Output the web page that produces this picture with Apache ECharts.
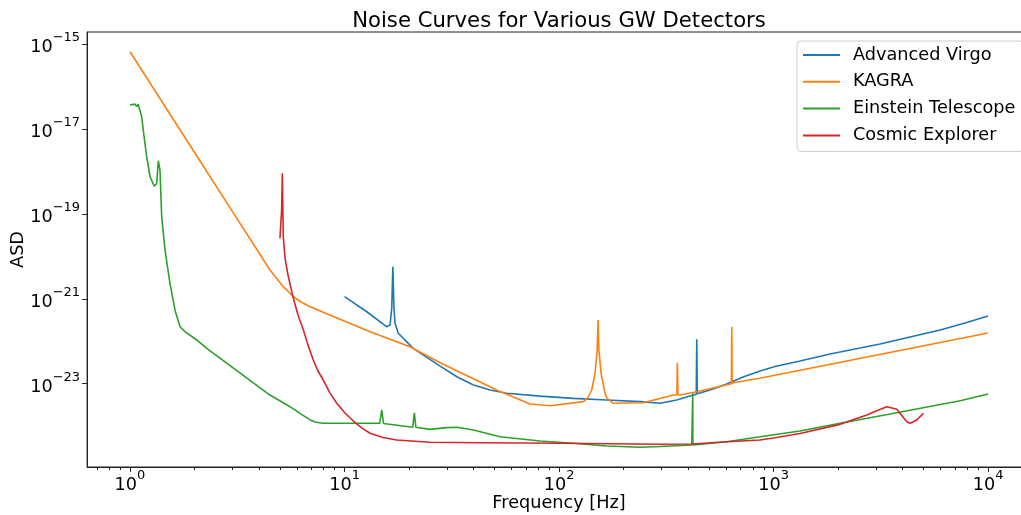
<!DOCTYPE html>
<html>
<head>
<meta charset="utf-8">
<script src="https://cdn.jsdelivr.net/npm/echarts@6/dist/echarts.min.js"></script>
<style>html,body{margin:0;padding:0;background:#fff;}#c{width:1021px;height:515px;}</style>
</head>
<body>
<div id="c"></div>
<script>
// ---- data ----
const seriesNames = ['Advanced Virgo', 'KAGRA', 'Einstein Telescope', 'Cosmic Explorer'];

const freqVirgo = [10, 12.7, 15.7, 16.3, 16.6, 16.8, 17.0, 17.2, 17.8, 20.9, 27.9, 33.4, 39.9, 47.7, 57, 81.5, 116.6, 167, 238.6, 295.8, 353.8, 422.7, 436, 438.5, 441, 505.8, 605, 720.8, 865, 1016, 1329, 1834, 2532, 3137, 4328, 5973, 7812, 10000];
const asdVirgo  = [1.12e-21, 4.95e-22, 2.2e-22, 2.41e-22, 6e-22, 5.7e-21, 6e-22, 2.64e-22, 1.54e-22, 6.8e-23, 2.6e-23, 1.46e-23, 9.3e-24, 7.1e-24, 5.93e-24, 5.1e-24, 4.5e-24, 4.13e-24, 3.77e-24, 3.45e-24, 4.13e-24, 5.4e-24, 5.6e-24, 1.11e-22, 5.8e-24, 7.1e-24, 9.8e-24, 1.44e-23, 1.99e-23, 2.54e-23, 3.42e-23, 5.0e-23, 6.9e-23, 8.6e-23, 1.26e-22, 1.84e-22, 2.69e-22, 3.93e-22];

const freqKagra = [1, 2, 3, 4, 4.2, 4.49, 4.82, 5.18, 5.48, 5.77, 6.30, 6.91, 13.15, 20.2, 27.9, 51.2, 73.2, 90.8, 129.8, 136, 142, 144.5, 147.2, 150.5, 152, 153.5, 157, 160, 163, 167, 179, 247, 341, 354, 356, 358, 366.5, 438.5, 636, 638.5, 641, 862, 10000];
const asdKagra  = [6.59e-16, 2.8e-18, 1.15e-19, 1.2e-20, 8.1e-21, 4.75e-21, 3.03e-21, 1.92e-21, 1.47e-21, 1.12e-21, 8.3e-22, 6.5e-22, 1.68e-22, 7.4e-23, 3.12e-23, 7.1e-24, 3.32e-24, 3.03e-24, 3.77e-24, 4.6e-24, 7.1e-24, 1.1e-23, 1.78e-23, 6e-23, 3.16e-22, 6e-23, 1.78e-23, 1.1e-23, 6.5e-24, 4.6e-24, 3.45e-24, 3.56e-24, 5.4e-24, 5.5e-24, 3.12e-23, 5.5e-24, 5.4e-24, 6.47e-24, 1.0e-23, 2.2e-22, 1.04e-23, 1.34e-23, 1.56e-22];

const freqET = [1, 1.055, 1.075, 1.09, 1.134, 1.153, 1.196, 1.24, 1.298, 1.332, 1.355, 1.38, 1.405, 1.456, 1.536, 1.621, 1.711, 1.804, 2.046, 2.279, 4.49, 5.57, 6.2, 6.91, 7.36, 7.96, 14.6, 14.91, 15.2, 20.8, 21.16, 21.5, 25.0, 29.96, 33.4, 39.9, 53.1, 81.5, 116.6, 167, 238.6, 295.8, 415.5, 419.5, 420, 420.5, 605, 865, 1329, 2042, 3493, 7406, 10000];
const asdET  = [3.66e-17, 3.86e-17, 3.37e-17, 3.86e-17, 1.94e-17, 9.4e-18, 2.22e-18, 7.5e-19, 4.5e-19, 5.2e-19, 1.79e-18, 1.08e-18, 8.6e-20, 1.41e-20, 2.31e-21, 5.4e-22, 2.2e-22, 1.68e-22, 1.07e-22, 6.8e-23, 5.4e-24, 2.87e-24, 1.99e-24, 1.4e-24, 1.23e-24, 1.17e-24, 1.17e-24, 2.4e-24, 1.15e-24, 9.4e-25, 2.07e-24, 9.4e-25, 8.4e-25, 9.2e-25, 9.4e-25, 8.1e-25, 5.6e-25, 4.47e-25, 3.94e-25, 3.4e-25, 3.18e-25, 3.3e-25, 3.6e-25, 3.6e-25, 5.93e-24, 3.6e-25, 4.3e-25, 5.6e-25, 7.7e-25, 1.17e-24, 1.93e-24, 3.97e-24, 5.7e-24];

const freqCE = [5, 5.09, 5.13, 5.18, 5.28, 5.45, 5.77, 6.07, 6.43, 6.76, 7.15, 7.52, 7.96, 8.56, 9.2, 10.05, 11.0, 12.07, 13.15, 15.12, 17.5, 25.0, 42.8, 101, 295.8, 418, 605, 865, 1016, 1329, 2042, 2720, 3006, 3372, 3753, 4178, 4328, 4653, 5000];
const asdCE  = [2.65e-20, 1.23e-19, 9.0e-19, 3e-20, 9.1e-21, 3.63e-21, 1.04e-21, 4.15e-22, 1.84e-22, 8.1e-23, 3.6e-23, 1.99e-23, 1.22e-23, 6.0e-24, 3.45e-24, 2.04e-24, 1.32e-24, 9.0e-25, 6.8e-25, 5.4e-25, 4.72e-25, 4.16e-25, 4.07e-25, 3.94e-25, 3.73e-25, 3.8e-25, 4.3e-25, 4.72e-25, 5.3e-25, 6.7e-25, 1.1e-24, 1.83e-24, 2.28e-24, 2.87e-24, 2.49e-24, 1.27e-24, 1.17e-24, 1.4e-24, 2.01e-24];

const xMajorTicks = [1, 10, 100, 1000, 10000];
const xMinorTicks = [0.7, 0.8, 0.9, 2, 3, 4, 5, 6, 7, 8, 9, 20, 30, 40, 50, 60, 70, 80, 90, 200, 300, 400, 500, 600, 700, 800, 900, 2000, 3000, 4000, 5000, 6000, 7000, 8000, 9000];
const yMajorTicks = [1e-15, 1e-17, 1e-19, 1e-21, 1e-23];
const xRange = [0.630957, 15848.9];
const yRange = [1.089e-25, 1.928e-15];

// ---- chart ----
const FONT = 'DejaVu Sans';
const FS = 17.7;
const colors = ['#1f77b4', '#ff7f0e', '#2ca02c', '#d62728'];
const zip = (a, b) => a.map((v, i) => [v, b[i]]);
const seriesData = [zip(freqVirgo, asdVirgo), zip(freqKagra, asdKagra), zip(freqET, asdET), zip(freqCE, asdCE)];

function powLabel(v) {
  const e = Math.round(Math.log10(v));
  return '{m|10}{s|' + (e < 0 ? '\u2212' : '') + Math.abs(e) + '}';
}
const rich = {
  m: { fontFamily: FONT, fontSize: FS, color: '#000', lineHeight: 25, verticalAlign: 'bottom' },
  s: { fontFamily: FONT, fontSize: 13, color: '#000', lineHeight: 13, verticalAlign: 'top' }
};

const chart = echarts.init(document.getElementById('c'), null, { renderer: 'canvas' });
chart.setOption({
  animation: false,
  backgroundColor: '#fff',
  title: {
    text: 'Noise Curves for Various GW Detectors',
    left: 559, top: 11, padding: 0, textAlign: 'center',
    textStyle: { fontFamily: FONT, fontSize: 21.2, fontWeight: 'normal', color: '#000' }
  },
  legend: {
    orient: 'vertical', left: 797, top: 41,
    padding: [4, 8, 6, 6],
    itemWidth: 37, itemHeight: 2, itemGap: 6.8,
    icon: 'rect',
    borderColor: '#cccccc', borderWidth: 1, borderRadius: 4,
    backgroundColor: 'rgba(255,255,255,0.8)',
    textStyle: { fontFamily: FONT, fontSize: FS, color: '#000', lineHeight: 20, padding: [0, 0, 0, 8] },
    data: seriesNames
  },
  grid: {
    left: 87.1, top: 32, width: 943.9, height: 435,
    outerBoundsMode: 'none', containLabel: false,
    show: true, borderColor: '#222', borderWidth: 1, backgroundColor: 'transparent'
  },
  xAxis: [{
    type: 'log', logBase: 10, min: xRange[0], max: xRange[1],
    name: 'Frequency [Hz]', nameLocation: 'middle', nameGap: 27, nameMoveOverlap: false,
    nameTextStyle: { fontFamily: FONT, fontSize: FS, color: '#000' },
    axisLine: { show: true, lineStyle: { color: '#222', width: 1 } },
    axisTick: { show: true, customValues: xMajorTicks, length: 5, lineStyle: { color: '#222', width: 1 } },
    axisLabel: { customValues: xMajorTicks, margin: 2, formatter: powLabel, rich: rich },
    splitLine: { show: false }, minorTick: { show: false }
  }, {
    type: 'log', logBase: 10, min: xRange[0], max: xRange[1], position: 'bottom', gridIndex: 0,
    axisLine: { show: false },
    axisTick: { show: true, customValues: xMinorTicks, length: 3, lineStyle: { color: '#222', width: 1 } },
    axisLabel: { show: false },
    splitLine: { show: false }
  }],
  yAxis: {
    type: 'log', logBase: 10, min: yRange[0], max: yRange[1],
    name: 'ASD', nameLocation: 'middle', nameGap: 60, nameMoveOverlap: false,
    nameTextStyle: { fontFamily: FONT, fontSize: FS, color: '#000' },
    axisLine: { show: true, lineStyle: { color: '#222', width: 1 } },
    axisTick: { show: true, customValues: yMajorTicks, length: 5, lineStyle: { color: '#222', width: 1 } },
    axisLabel: { customValues: yMajorTicks, margin: 7, formatter: powLabel, rich: rich },
    splitLine: { show: false }, minorTick: { show: false }
  },
  series: seriesNames.map((n, i) => ({
    name: n, type: 'line', xAxisIndex: 0, yAxisIndex: 0,
    data: seriesData[i], showSymbol: false, symbol: 'none', smooth: false,
    color: colors[i],
    lineStyle: { color: colors[i], width: 1.6 },
    clip: true
  }))
});
</script>
</body>
</html>
